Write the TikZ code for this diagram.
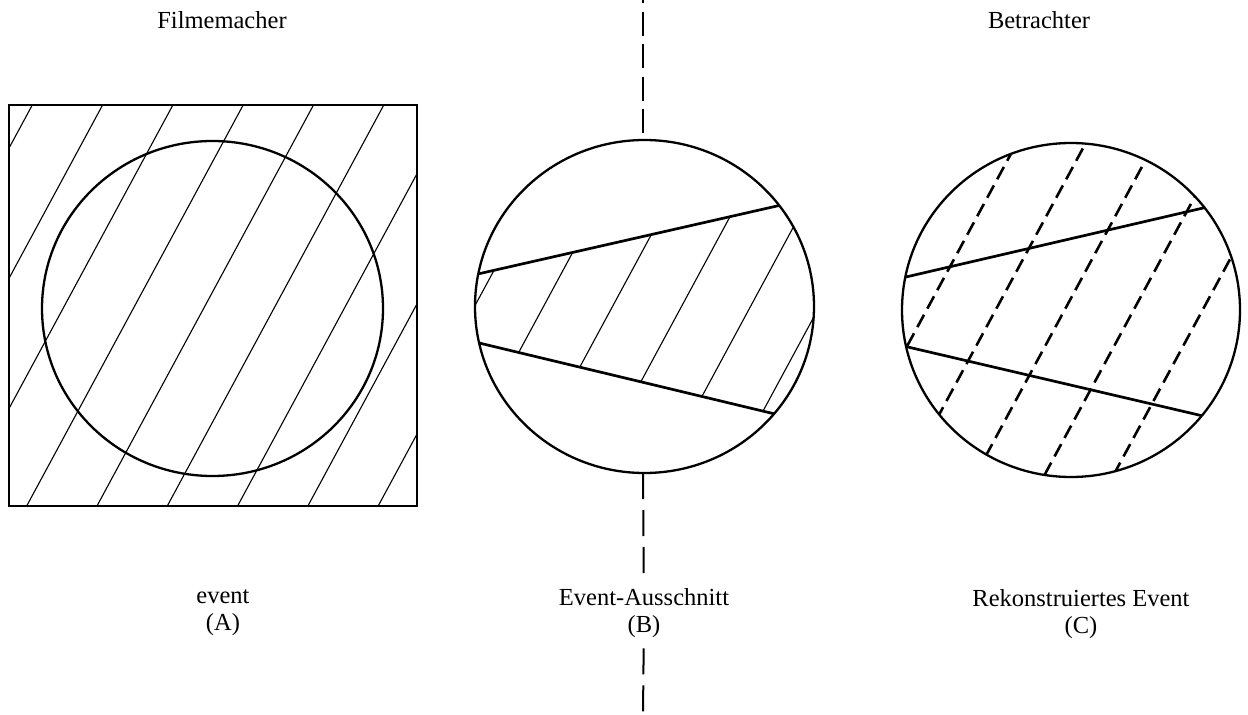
\documentclass[tikz,border=0pt]{standalone}
\usepackage{fontspec}
\setmainfont{Liberation Serif}
\usepackage{tikz}

\begin{document}
\begin{tikzpicture}[
    x=1pt, y=-1pt,
    frame/.style={line width=2.3pt},
    hatch/.style={line width=1.1pt},
    cut/.style={line width=2.7pt},
    recon/.style={line width=2.6pt, dash pattern=on 14pt off 7pt},
    axis/.style={line width=2pt, dash pattern=on 26pt off 11pt},
    lbl/.style={font=\fontsize{24.5}{27}\selectfont, align=center, inner sep=3pt, text=black}
]
    \path[use as bounding box, fill=white] (0,0) rectangle (1248,715);

    % titles
    \node[lbl, anchor=base] (maker) at (222,28) {Filmemacher};
    \node[lbl, anchor=base] (viewer) at (1039,28) {Betrachter};

    % (A) the whole event
    \coordinate (cA) at (212.5,308.5);
    \begin{scope}
        \clip (9,105) rectangle (417,506);
        \foreach \n in {0,...,8}
            \draw[hatch] ({89+70.3*\n-0.54*90},90) -- ({89+70.3*\n-0.54*520},520);
    \end{scope}
    \draw[frame] (9,105) rectangle (417,506);
    \draw[frame] (cA) circle [x radius=170.5pt, y radius=167.5pt];

    % (B) the cut-out
    \coordinate (cB) at (644.5,306.5);
    \begin{scope}
        \clip (cB) circle [x radius=169.5pt, y radius=166.5pt];
        \begin{scope}
            \clip (440,282.6) -- (850,189.4) -- (850,432) -- (440,333.6) -- cycle;
            \foreach \n in {0,...,5}
                \draw[hatch] ({640+69*\n-0.54*150},150) -- ({640+69*\n-0.54*470},470);
        \end{scope}
        \draw[cut] (440,282.6) -- (850,189.4);
        \draw[cut] (440,333.6) -- (850,432);
    \end{scope}
    \draw[frame] (cB) circle [x radius=169.5pt, y radius=166.5pt];

    % (C) reconstruction
    \coordinate (cC) at (1071,310);
    \begin{scope}
        \clip (cC) circle [x radius=169pt, y radius=167pt];
        \foreach \n in {0,...,4}
            \draw[recon] ({1094+69*\n-0.54*130},130) -- ({1094+69*\n-0.54*490},490);
        \draw[cut] (880,283) -- (1260,194.8);
        \draw[cut] (880,340.5) -- (1260,429.3);
    \end{scope}
    \draw[frame] (cC) circle [x radius=169pt, y radius=167pt];

    % captions
    \node[lbl] (evA) at (223,613) {event\\(A)};
    \node[lbl, inner ysep=10pt] (secB) at (644,613.5) {Event-Ausschnitt\\(B)};
    \node[lbl] (evC) at (1081,614.5) {Rekonstruiertes Event\\(C)};

    % dividing axis
    \coordinate (axtop) at (643,0);
    \coordinate (Btop) at (643,140);
    \coordinate (Bbot) at (643,473);
    \coordinate (axbot) at (643,715);
    \draw[axis, dash pattern=on 24pt off 8.5pt, dash phase=21pt] (axtop) -- (Btop);
    \draw[axis] (Bbot) -- (secB);
    \draw[axis] (secB) -- (axbot);
\end{tikzpicture}
\end{document}
